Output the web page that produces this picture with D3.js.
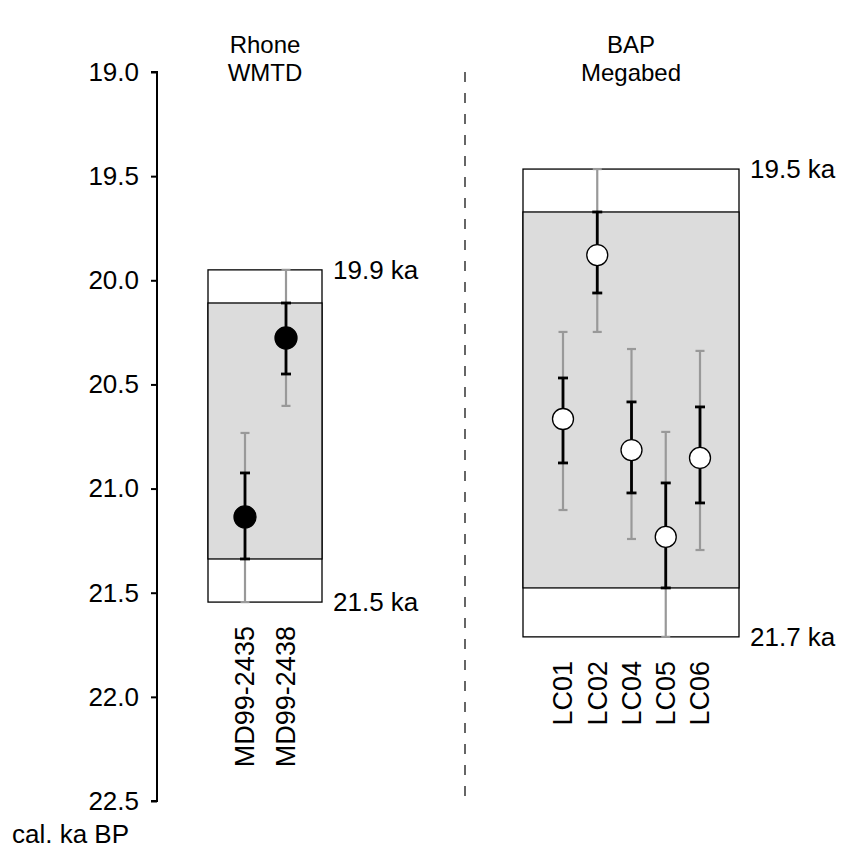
<!DOCTYPE html>
<html>
<head>
<meta charset="utf-8">
<script src="https://cdn.jsdelivr.net/npm/d3@7"></script>
<style>
  body { margin: 0; background: #fff; }
  svg { font-family: "Liberation Sans", Arial, sans-serif; }
</style>
</head>
<body>
<div id="chart"></div>
<script>
// y axis ticks (cal. ka BP)
var yTicks = [19.0, 19.5, 20.0, 20.5, 21.0, 21.5, 22.0, 22.5];

// Rhone WMTD cores
var rhoneCores = ["MD99-2435", "MD99-2438"];
var rhoneMean  = [21.136, 20.277];
var rhoneLo1   = [20.925, 20.109];
var rhoneHi1   = [21.338, 20.450];
var rhoneLo2   = [20.733, 19.950];
var rhoneHi2   = [21.545, 20.603];
var rhoneEdgeLabels = ["19.9 ka", "21.5 ka"];

// BAP Megabed cores
var bapCores = ["LC01", "LC02", "LC04", "LC05", "LC06"];
var bapMean  = [20.666, 19.879, 20.815, 21.232, 20.853];
var bapLo1   = [20.469, 19.672, 20.584, 20.973, 20.608];
var bapHi1   = [20.877, 20.061, 21.021, 21.477, 21.069];
var bapLo2   = [20.248, 19.466, 20.330, 20.728, 20.339];
var bapHi2   = [21.103, 20.248, 21.242, 21.712, 21.295];
var bapEdgeLabels = ["19.5 ka", "21.7 ka"];

var width = 846, height = 854;
var fs = 26;

var svg = d3.select("#chart").append("svg")
    .attr("width", width)
    .attr("height", height);

var y = d3.scaleLinear().domain([19, 22.5]).range([72, 801]);

/* axis */
var yAxis = d3.axisLeft(y)
    .tickValues(yTicks)
    .tickFormat(d3.format(".1f"))
    .tickSize(6)
    .tickPadding(12);

var ga = svg.append("g")
    .attr("transform", "translate(157,0)")
    .call(yAxis);
ga.select(".domain").attr("stroke-width", 2).attr("d", "M-6," + y(19) + "H0V" + y(22.5) + "H-6");
ga.selectAll(".tick line").attr("stroke-width", 2);
ga.selectAll(".tick text").attr("font-size", fs).attr("font-family", "Liberation Sans, Arial, sans-serif").attr("fill", "#000");

svg.append("text")
    .attr("x", 12).attr("y", 843)
    .attr("font-size", fs)
    .text("cal. ka BP");

/* dashed separator */
svg.append("line")
    .attr("x1", 465).attr("x2", 465)
    .attr("y1", y(19)).attr("y2", 805)
    .attr("stroke", "#000")
    .attr("stroke-width", 1.2)
    .attr("stroke-dasharray", "10,11");

function drawGroup(g) {
    var x = d3.scalePoint().domain(g.cores).range(g.xr);
    var idx = d3.range(g.cores.length);
    var top2 = d3.min(g.lo2), bot2 = d3.max(g.hi2);
    var top1 = d3.min(g.lo1), bot1 = d3.max(g.hi1);

    // titles
    g.title.forEach(function(t, i){
        svg.append("text")
            .attr("x", (g.box[0] + g.box[1]) / 2)
            .attr("y", 53 + i * 28)
            .attr("text-anchor", "middle")
            .attr("font-size", 24)
            .text(t);
    });

    // outer (2 sigma) box
    svg.append("rect")
        .attr("x", g.box[0]).attr("y", y(top2))
        .attr("width", g.box[1] - g.box[0])
        .attr("height", y(bot2) - y(top2))
        .attr("fill", "#fff")
        .attr("stroke", "#000").attr("stroke-width", 1.3);

    // inner (1 sigma) box
    svg.append("rect")
        .attr("x", g.box[0]).attr("y", y(top1))
        .attr("width", g.box[1] - g.box[0])
        .attr("height", y(bot1) - y(top1))
        .attr("fill", "#dcdcdc")
        .attr("stroke", "#000").attr("stroke-width", 1.3);

    // edge labels
    [top2, bot2].forEach(function(v, i){
        svg.append("text")
            .attr("x", g.box[1] + 11)
            .attr("y", y(v))
            .attr("dy", "0.35em")
            .attr("font-size", fs)
            .text(g.edge[i]);
    });

    // error bars: grey 2 sigma then black 1 sigma
    function bars(lo, hi, color, sw, cap) {
        var gb = svg.append("g").attr("stroke", color).attr("stroke-width", sw);
        gb.selectAll("line.v").data(idx).enter().append("line")
            .attr("x1", function(i){ return x(g.cores[i]); })
            .attr("x2", function(i){ return x(g.cores[i]); })
            .attr("y1", function(i){ return y(lo[i]); })
            .attr("y2", function(i){ return y(hi[i]); });
        [lo, hi].forEach(function(arr){
            gb.selectAll(null).data(idx).enter().append("line")
                .attr("x1", function(i){ return x(g.cores[i]) - cap; })
                .attr("x2", function(i){ return x(g.cores[i]) + cap; })
                .attr("y1", function(i){ return y(arr[i]); })
                .attr("y2", function(i){ return y(arr[i]); });
        });
    }
    bars(g.lo2, g.hi2, "#999", 2.2, 4.5);
    bars(g.lo1, g.hi1, "#000", 2.8, 5);

    svg.append("g").selectAll("circle").data(idx).enter().append("circle")
        .attr("cx", function(i){ return x(g.cores[i]); })
        .attr("cy", function(i){ return y(g.mean[i]); })
        .attr("r", g.filled ? 11 : 10.5)
        .attr("fill", g.filled ? "#000" : "#fff")
        .attr("stroke", "#000").attr("stroke-width", 1.3);

    // core labels, rotated
    svg.append("g").selectAll("text").data(g.cores).enter().append("text")
        .attr("transform", function(d){
            return "translate(" + x(d) + "," + (y(bot2) + 24) + ") rotate(-90)";
        })
        .attr("text-anchor", "end")
        .attr("dy", "0.35em")
        .attr("font-size", 27)
        .text(function(d){ return d; });
}

drawGroup({
    title: ["Rhone", "WMTD"], cores: rhoneCores, xr: [245, 286], box: [208, 322],
    mean: rhoneMean, lo1: rhoneLo1, hi1: rhoneHi1, lo2: rhoneLo2, hi2: rhoneHi2,
    edge: rhoneEdgeLabels, filled: true
});
drawGroup({
    title: ["BAP", "Megabed"], cores: bapCores, xr: [563, 700], box: [523, 739],
    mean: bapMean, lo1: bapLo1, hi1: bapHi1, lo2: bapLo2, hi2: bapHi2,
    edge: bapEdgeLabels, filled: false
});
</script>
</body>
</html>
